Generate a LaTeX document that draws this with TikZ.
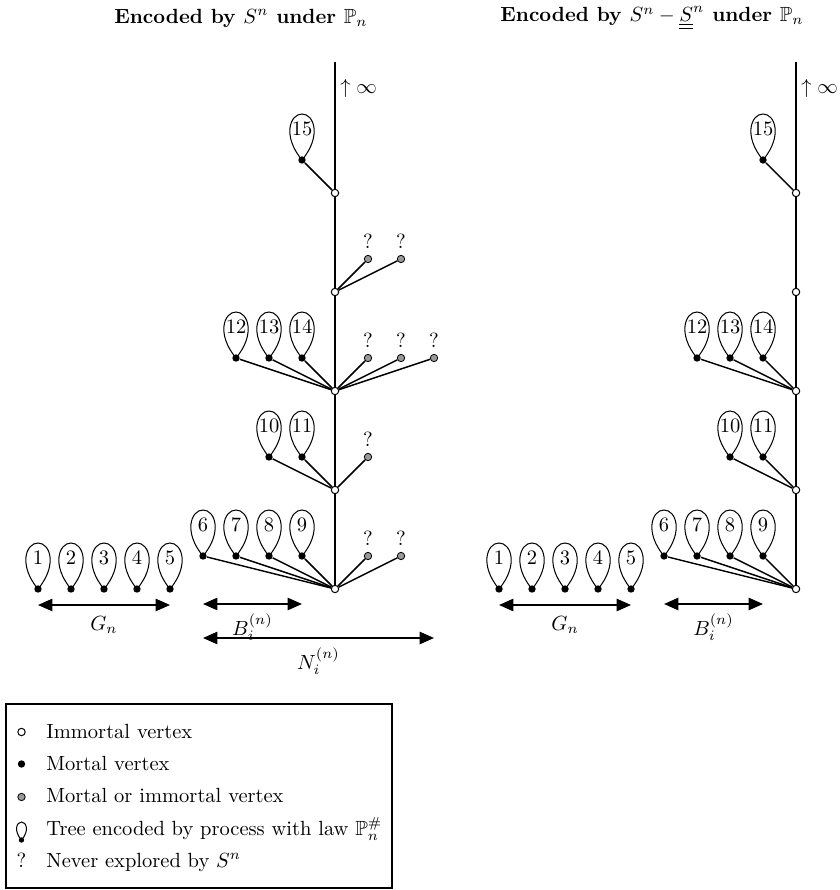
\documentclass[tikz,border=0pt]{standalone}
\usepackage{amssymb}
\usetikzlibrary{arrows.meta}
\newcommand\myleaf[4]{%
  \draw[leafline] (#2,#3) .. controls +(-20,-24) and +(-12,0) .. (#2,#3-46) .. controls +(12,0) and +(20,-24) .. (#2,#3);
  \node[mortal] (#1) at (#2,#3) {};
  \node[num] (#1n) at (#2,#3-31) {#4};}
\newcommand\myq[3]{%
  \node[unknown] (#1) at (#2,#3) {};
  \node[qmark] (#1q) at (#1.north) {?};}
\begin{document}
\begin{tikzpicture}[x=0.4878pt,y=-0.4878pt,
  immortal/.style={circle,draw,fill=white,inner sep=0pt,minimum size=3.6pt,line width=0.5pt},
  mortal/.style={circle,fill=black,inner sep=0pt,minimum size=3.6pt},
  unknown/.style={circle,draw,fill=gray!80,inner sep=0pt,minimum size=3.6pt,line width=0.4pt},
  edge/.style={line width=0.7pt},
  spine/.style={line width=0.9pt},
  leafline/.style={line width=0.5pt},
  num/.style={inner sep=0pt},
  qmark/.style={inner sep=2.7pt,anchor=south},
  measure/.style={line width=0.8pt,{Triangle[length=7pt,width=6pt]}-{Triangle[length=7pt,width=6pt]}},
  title/.style={font=\bfseries}]
\useasboundingbox (0,0) rectangle (839,890);

% titles
\node[title] (t1) at (241,18) {Encoded by $S^n$ under $\mathbb{P}_n$};
\node[title] (t2) at (652,18) {Encoded by $S^n-\underline{\underline{S}}^n$ under $\mathbb{P}_n$};

% ---------------- left tree ----------------
\node[immortal] (a1) at (335,589) {};
\node[immortal] (a2) at (335,490) {};
\node[immortal] (a3) at (335,391) {};
\node[immortal] (a4) at (335,292) {};
\node[immortal] (a5) at (335,193) {};
\coordinate (atop) at (335,62);
\draw[spine] (atop) -- (a5) -- (a4) -- (a3) -- (a2) -- (a1);
\node[anchor=west,inner sep=0pt] (ainf) at (340,88) {$\uparrow\infty$};

\myleaf{p1}{38}{589}{1}
\myleaf{p2}{71}{589}{2}
\myleaf{p3}{104}{589}{3}
\myleaf{p4}{137}{589}{4}
\myleaf{p5}{170}{589}{5}

\myleaf{p6}{203}{556}{6}
\myleaf{p7}{236}{556}{7}
\myleaf{p8}{269}{556}{8}
\myleaf{p9}{302}{556}{9}
\myq{q1}{368}{556}
\myq{q2}{401}{556}
\foreach \n in {p6,p7,p8,p9,q1,q2} \draw[edge] (\n) -- (a1);

\myleaf{p10}{269}{457}{10}
\myleaf{p11}{302}{457}{11}
\myq{q3}{368}{457}
\foreach \n in {p10,p11,q3} \draw[edge] (\n) -- (a2);

\myleaf{p12}{236}{358}{12}
\myleaf{p13}{269}{358}{13}
\myleaf{p14}{302}{358}{14}
\myq{q4}{368}{358}
\myq{q5}{401}{358}
\myq{q6}{434}{358}
\foreach \n in {p12,p13,p14,q4,q5,q6} \draw[edge] (\n) -- (a3);

\myq{q7}{368}{259}
\myq{q8}{401}{259}
\foreach \n in {q7,q8} \draw[edge] (\n) -- (a4);

\myleaf{p15}{302}{160}{15}
\draw[edge] (p15) -- (a5);

% measures
\coordinate (g1) at (38,605);  \coordinate (g2) at (170,605);
\draw[measure] (g1) -- node[below=2pt] (gl) {$G_n$} (g2);
\coordinate (b1) at (203,604); \coordinate (b2) at (302,604);
\draw[measure] (b1) -- node[below=1pt] (bl) {$B_i^{(n)}$} (b2);
\coordinate (n1) at (203,638); \coordinate (n2) at (434,638);
\draw[measure] (n1) -- node[below=1pt] (nl) {$N_i^{(n)}$} (n2);

% ---------------- right tree ----------------
\begin{scope}[xshift=224.88pt]
\node[immortal] (r1) at (335,589) {};
\node[immortal] (r2) at (335,490) {};
\node[immortal] (r3) at (335,391) {};
\node[immortal] (r4) at (335,292) {};
\node[immortal] (r5) at (335,193) {};
\coordinate (rtop) at (335,62);
\draw[spine] (rtop) -- (r5) -- (r4) -- (r3) -- (r2) -- (r1);
\node[anchor=west,inner sep=0pt] (rinf) at (340,88) {$\uparrow\infty$};

\myleaf{s1}{38}{589}{1}
\myleaf{s2}{71}{589}{2}
\myleaf{s3}{104}{589}{3}
\myleaf{s4}{137}{589}{4}
\myleaf{s5}{170}{589}{5}

\myleaf{s6}{203}{556}{6}
\myleaf{s7}{236}{556}{7}
\myleaf{s8}{269}{556}{8}
\myleaf{s9}{302}{556}{9}
\foreach \n in {s6,s7,s8,s9} \draw[edge] (\n) -- (r1);

\myleaf{s10}{269}{457}{10}
\myleaf{s11}{302}{457}{11}
\foreach \n in {s10,s11} \draw[edge] (\n) -- (r2);

\myleaf{s12}{236}{358}{12}
\myleaf{s13}{269}{358}{13}
\myleaf{s14}{302}{358}{14}
\foreach \n in {s12,s13,s14} \draw[edge] (\n) -- (r3);

\myleaf{s15}{302}{160}{15}
\draw[edge] (s15) -- (r5);

\coordinate (rg1) at (38,605);  \coordinate (rg2) at (170,605);
\draw[measure] (rg1) -- node[below=2pt] (rgl) {$G_n$} (rg2);
\coordinate (rb1) at (203,604); \coordinate (rb2) at (302,604);
\draw[measure] (rb1) -- node[below=1pt] (rbl) {$B_i^{(n)}$} (rb2);
\end{scope}

% ---------------- legend ----------------
\node[draw,line width=0.6pt,inner sep=0pt,minimum width=188.3pt,minimum height=89.75pt] (legend) at (199,796) {};
\node[immortal] (k1) at (21.5,732) {};
\node[anchor=base west,inner sep=0pt] (k1t) at (46,738) {Immortal vertex};
\node[mortal] (k2) at (21.5,764) {};
\node[anchor=base west,inner sep=0pt] (k2t) at (46,770) {Mortal vertex};
\node[unknown] (k3) at (21.5,797) {};
\node[anchor=base west,inner sep=0pt] (k3t) at (46,802.5) {Mortal or immortal vertex};
\draw[leafline] (21.5,840) .. controls +(-8,-9) and +(-5,0) .. (21.5,822) .. controls +(5,0) and +(8,-9) .. (21.5,840);
\node[circle,fill=black,inner sep=0pt,minimum size=2.6pt] (k4) at (21.5,840) {};
\node[anchor=base west,inner sep=0pt] (k4t) at (46,835) {Tree encoded by process with law $\mathbb{P}_n^{\#}$};
\node[anchor=base,inner sep=0pt] (k5) at (21.5,867) {?};
\node[anchor=base west,inner sep=0pt] (k5t) at (46,867) {Never explored by $S^n$};
\end{tikzpicture}
\end{document}
